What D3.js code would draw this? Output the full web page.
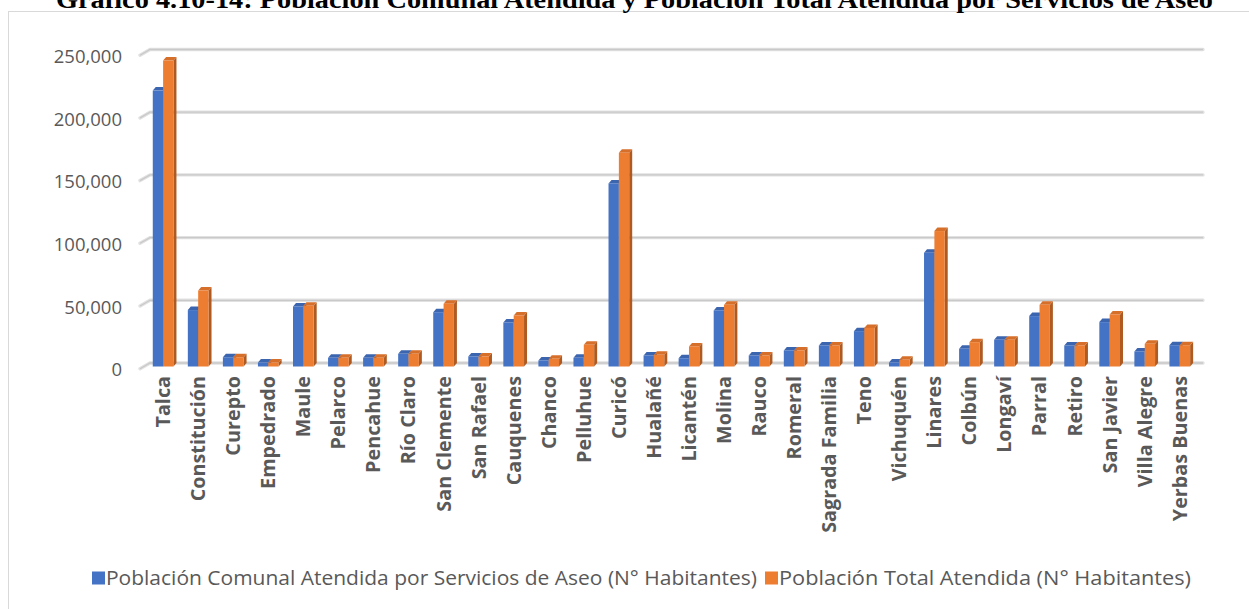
<!DOCTYPE html>
<html>
<head>
<meta charset="utf-8">
<script src="https://cdn.jsdelivr.net/npm/d3@7"></script>
<style>
  html, body { margin: 0; padding: 0; background: #fff; overflow: hidden; }
  svg { display: block; }
</style>
</head>
<body>
<div id="chart"></div>
<script>
var titleText = 'Gráfico 4.10-14: Población Comunal Atendida y Población Total Atendida por Servicios de Aseo';

var categories = ['Talca', 'Constitución', 'Curepto', 'Empedrado', 'Maule', 'Pelarco', 'Pencahue', 'Río Claro',
	'San Clemente', 'San Rafael', 'Cauquenes', 'Chanco', 'Pelluhue', 'Curicó', 'Hualañé', 'Licantén', 'Molina',
	'Rauco', 'Romeral', 'Sagrada Familia', 'Teno', 'Vichuquén', 'Linares', 'Colbún', 'Longaví', 'Parral',
	'Retiro', 'San Javier', 'Villa Alegre', 'Yerbas Buenas'];

var comunal = [220000, 45000, 7400, 3200, 47900, 6900, 6900, 10100, 43300, 8000, 35100, 4800, 6900, 146000,
	8800, 6600, 44700, 8800, 12800, 16800, 28200, 3200, 90700, 14100, 21300, 40200, 16800, 35400, 12000, 17000];

var total = [244000, 60600, 7400, 3200, 48400, 6900, 6900, 10100, 50000, 8000, 40700, 6100, 17300, 170400,
	9300, 16000, 49200, 8800, 12800, 16800, 30800, 5300, 108000, 19400, 21300, 49200, 16800, 41500, 18100, 17000];

var seriesNames = ['Población Comunal Atendida por Servicios de Aseo (N° Habitantes)', 'Población Total Atendida (N° Habitantes)'];
var yTicks = [0, 50000, 100000, 150000, 200000, 250000];

var W = 1249, H = 609;
var colors = ['#4472C4', '#ED7D31'];
var sideColors = ['#2F528F', '#AE5A21'];
var topColors = ['#3C65AF', '#D66F2A'];
var depth = { dx: 3, dy: 3.5 };

var svg = d3.select('#chart').append('svg')
	.attr('width', W)
	.attr('height', H);

// chart frame
svg.append('rect')
	.attr('x', 8.5).attr('y', 11.5)
	.attr('width', 1400).attr('height', 800)
	.attr('fill', '#fff')
	.attr('stroke', '#d9d9d9')
	.attr('stroke-width', 1);

// title (clipped by top of the page, as in the source)
svg.append('text')
	.attr('x', 56).attr('y', 7.5)
	.attr('textLength', 1157)
	.attr('lengthAdjust', 'spacingAndGlyphs')
	.style('font-family', '"Liberation Serif", "DejaVu Serif", serif')
	.style('font-weight', 'bold')
	.style('font-size', '25px')
	.attr('fill', '#000')
	.text(titleText);

var x = d3.scaleBand()
	.domain(categories)
	.range([138.4, 1204.5])
	.padding(0.41);

var xs = d3.scaleBand()
	.domain([0, 1])
	.range([0, x.bandwidth()]);

var y = d3.scaleLinear()
	.domain([0, 250000])
	.range([366.5, 53]);

// gridlines (back wall, with the little 3D diagonal on the left)
var grid = svg.append('g');
yTicks.forEach(function(t) {
	var gy = y(t) - depth.dy;
	var pathD = 'M140,' + (gy + 5.7) + 'L150,' + gy + 'L1203,' + gy;
	grid.append('path').attr('d', pathD)
		.attr('fill', 'none').attr('stroke', '#e1e1e1')
		.attr('stroke-width', 3.4).attr('stroke-linecap', 'round');
	grid.append('path').attr('d', pathD)
		.attr('fill', 'none').attr('stroke', '#c9c9c9')
		.attr('stroke-width', 1.3);
});

// y axis labels
var yAxis = d3.axisLeft(y)
	.tickValues(yTicks)
	.tickSize(0)
	.tickPadding(0)
	.tickFormat(d3.format(','));

var yg = svg.append('g')
	.attr('transform', 'translate(122,3.5)')
	.call(yAxis);
yg.select('.domain').remove();
yg.selectAll('text')
	.style('font-family', '"Open Sans", sans-serif')
	.style('font-size', '18.5px')
	.attr('fill', '#595959');

// bars
var data = categories.map(function(c, i) {
	return { cat: c, vals: [comunal[i], total[i]] };
});

var groups = svg.append('g').selectAll('g')
	.data(data)
	.enter()
	.append('g')
	.attr('transform', function(d) { return 'translate(' + x(d.cat) + ',0)'; });

[0, 1].forEach(function(s) {
	var bw = xs.bandwidth();
	groups.each(function(d) {
		var g = d3.select(this);
		var x0 = xs(s), x1 = x0 + bw;
		var yt = y(d.vals[s]), yb = y(0);
		var dx = depth.dx, dy = depth.dy;
		g.append('path')
			.attr('d', 'M' + x1 + ',' + yt + 'L' + (x1 + dx) + ',' + (yt - dy) + 'L' + (x1 + dx) + ',' + (yb - dy) + 'L' + x1 + ',' + yb + 'Z')
			.attr('fill', sideColors[s]);
		g.append('path')
			.attr('d', 'M' + x0 + ',' + yt + 'L' + (x0 + dx) + ',' + (yt - dy) + 'L' + (x1 + dx) + ',' + (yt - dy) + 'L' + x1 + ',' + yt + 'Z')
			.attr('fill', topColors[s]);
		g.append('rect')
			.attr('x', x0)
			.attr('y', yt)
			.attr('width', bw)
			.attr('height', yb - yt)
			.attr('fill', colors[s]);
	});
});

// category labels
var xAxis = d3.axisBottom(x).tickSize(0).tickPadding(0);
var xg = svg.append('g')
	.attr('transform', 'translate(0,371)')
	.call(xAxis);
xg.select('.domain').remove();
xg.selectAll('text')
	.attr('transform', 'rotate(-90)')
	.attr('x', -5)
	.attr('y', 0)
	.attr('dy', '0.35em')
	.style('text-anchor', 'end')
	.style('font-family', '"Open Sans", sans-serif')
	.style('font-weight', 'bold')
	.style('font-size', '19.8px')
	.attr('fill', '#595959');

// legend
var legendBoxes = [92, 765];
var legendLengths = [651, 412];
var legend = svg.append('g');
seriesNames.forEach(function(name, i) {
	legend.append('rect')
		.attr('x', legendBoxes[i]).attr('y', 571.5)
		.attr('width', 13).attr('height', 13)
		.attr('fill', colors[i]);
	legend.append('text')
		.attr('x', legendBoxes[i] + 14).attr('y', 578)
		.attr('dy', '0.35em')
		.attr('textLength', legendLengths[i])
		.attr('lengthAdjust', 'spacingAndGlyphs')
		.style('font-family', '"Open Sans", sans-serif')
		.style('font-size', '20.5px')
		.attr('fill', '#595959')
		.text(name);
});
</script>
</body>
</html>
